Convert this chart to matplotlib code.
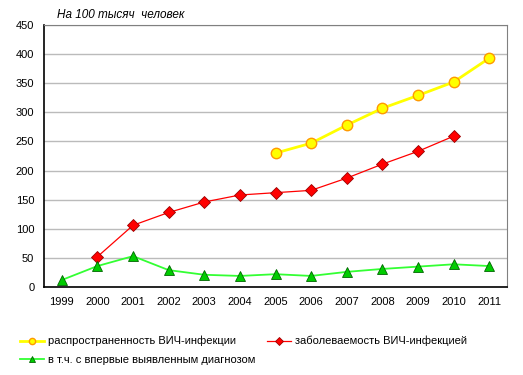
import matplotlib
matplotlib.use('Agg')
import matplotlib.pyplot as plt
import numpy as np

# DATA
years = ['1999', '2000', '2001', '2002', '2003', '2004', '2005',
         '2006', '2007', '2008', '2009', '2010', '2011']
prevalence = [np.nan, np.nan, np.nan, np.nan, np.nan, np.nan, 230,
              247, 278, 307, 329, 352, 393]
incidence = [np.nan, 52, 106, 128, 146, 158, 162,
             166, 187, 211, 233, 259, np.nan]
new_diag = [12, 36, 53, 29, 21, 19, 22, 19, 26, 31, 35, 39, 36]

labels = ['распространенность ВИЧ-инфекции',
          'заболеваемость ВИЧ-инфекцией',
          'в т.ч. с впервые выявленным диагнозом']
y_ticks = list(range(0, 451, 50))

plt.rcParams['font.family'] = ['Liberation Sans', 'DejaVu Sans']

fig = plt.figure(figsize=(5.23, 3.75), dpi=100)
ax = fig.add_axes([44 / 523, 88 / 375, 463 / 523, 262 / 375])

x = np.arange(len(years))

l1, = ax.plot(x, prevalence, color='#FFFF00', lw=2, marker='o', ms=7.5,
              mfc='#FFFF00', mec='#FF9900', mew=1, zorder=4)
l2, = ax.plot(x, incidence, color='#FF0000', lw=0.9, marker='D', ms=6.5,
              mfc='#FF0000', mec='#990000', mew=0.6, zorder=4)
l3, = ax.plot(x, new_diag, color='#33FF33', lw=1.3, marker='^', ms=7,
              mfc='#00CC00', mec='#006600', mew=0.6, zorder=4)

ax.set_xlim(-0.5, len(years) - 0.5)
ax.set_ylim(0, 450)
ax.set_xticks(x)
ax.set_xticklabels(years, fontsize=8)
ax.set_yticks(y_ticks)
ax.set_yticklabels([str(v) for v in y_ticks], fontsize=8)
ax.tick_params(length=0)
ax.tick_params(axis='x', pad=7)
ax.tick_params(axis='y', pad=7)

ax.yaxis.grid(True, color='#BBBBBB', lw=1)
ax.set_axisbelow(True)
for s in ['top', 'right']:
    ax.spines[s].set_color('#808080')
for s in ['left', 'bottom']:
    ax.spines[s].set_color('black')
    ax.spines[s].set_linewidth(1.2)

fig.text(57 / 523, 1 - 15 / 375, 'На 100 тысяч  человек', fontsize=8.5,
         style='italic', va='center', ha='left')

fig.legend([l1, l3, l2], [labels[0], labels[2], labels[1]], ncol=2,
           loc='upper left', bbox_to_anchor=(10 / 523, 1 - 326 / 375),
           frameon=False, fontsize=8, markerscale=0.6,
           handlelength=2.2, handletextpad=0.35, columnspacing=1.0,
           labelspacing=0.75)

fig.savefig('out.png', dpi=100)
